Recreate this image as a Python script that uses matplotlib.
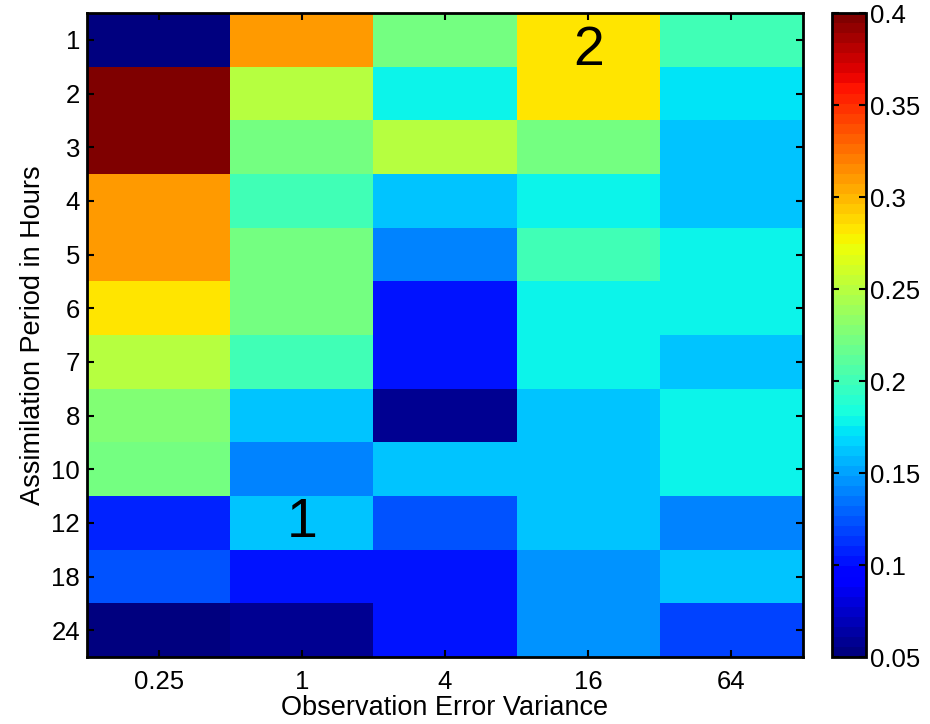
import numpy as np
from matplotlib import pyplot as plt

plt.rcParams['font.family'] = ['Liberation Sans', 'DejaVu Sans']

variances = ['0.25', '1', '4', '16', '64']
hours = ['1', '2', '3', '4', '5', '6', '7', '8', '10', '12', '18', '24']

# rows = assimilation period, columns = observation error variance
errors = np.array([
    [0.055, 0.310, 0.225, 0.285, 0.203],
    [0.400, 0.251, 0.176, 0.285, 0.175],
    [0.395, 0.225, 0.250, 0.225, 0.162],
    [0.310, 0.199, 0.162, 0.177, 0.160],
    [0.310, 0.225, 0.142, 0.203, 0.176],
    [0.285, 0.222, 0.102, 0.176, 0.176],
    [0.250, 0.200, 0.102, 0.176, 0.162],
    [0.226, 0.162, 0.060, 0.162, 0.176],
    [0.225, 0.142, 0.162, 0.162, 0.176],
    [0.105, 0.164, 0.122, 0.162, 0.142],
    [0.122, 0.102, 0.102, 0.145, 0.162],
    [0.050, 0.057, 0.102, 0.145, 0.120],
])

# (label, column, row) of the numbered markers
marks = [('2', 3, 0), ('1', 1, 9)]


def main():
    fig = plt.figure(figsize=(9.3, 7.24), dpi=100)
    ax = fig.add_axes([0.0935, 0.0925, 0.770, 0.8895])
    cax = fig.add_axes([0.8946, 0.0925, 0.0366, 0.8895])

    im = ax.imshow(errors, cmap=plt.get_cmap('jet', 64), vmin=0.05, vmax=0.4,
                   aspect='auto', interpolation='nearest')

    ax.set_xticks(range(len(variances)))
    ax.set_xticklabels(variances)
    ax.set_yticks(range(len(hours)))
    ax.set_yticklabels(hours)
    ax.tick_params(direction='in', length=5, width=1.5, labelsize=18.5,
                   top=True, right=True)
    ax.tick_params(axis='x', pad=9)
    ax.tick_params(axis='y', pad=5)
    ax.set_xlabel('Observation Error Variance', fontsize=19.5, labelpad=1)
    ax.set_ylabel('Assimilation Period in Hours', fontsize=19.5, labelpad=4)
    for s in ax.spines.values():
        s.set_linewidth(2)

    for txt, cx, cy in marks:
        dy = 0.2 if txt == '2' else 0.0
        ax.text(cx, cy + dy, txt, ha='center', va='center', fontsize=40)

    cb = fig.colorbar(im, cax=cax)
    cb.set_ticks([0.05, 0.1, 0.15, 0.2, 0.25, 0.3, 0.35, 0.4])
    cb.set_ticklabels(['0.05', '0.1', '0.15', '0.2', '0.25', '0.3', '0.35', '0.4'])
    cax.tick_params(direction='in', length=5, width=1.5, labelsize=18.5,
                    left=True, right=True, pad=3)
    cb.outline.set_linewidth(2)

    fig.savefig('out.png', dpi=100)


if __name__ == '__main__':
    main()
